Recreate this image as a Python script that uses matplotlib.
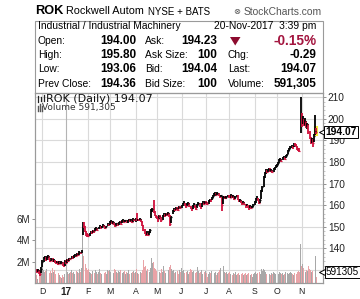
import numpy as np
import pandas as pd
import matplotlib
matplotlib.use('Agg')
import matplotlib.pyplot as plt
import matplotlib.transforms as mtransforms
from matplotlib.patches import Rectangle, Polygon
from matplotlib.lines import Line2D

plt.rcParams['font.family'] = ['Liberation Sans', 'DejaVu Sans']

W, H = 360, 299

# trading days Nov-22-2016 .. Nov-20-2017
holidays = ['2016-11-24', '2016-12-26', '2017-01-02', '2017-01-16', '2017-02-20',
            '2017-04-14', '2017-05-29', '2017-07-04', '2017-09-04']
dates = pd.bdate_range('2016-11-22', '2017-11-20')
dates = dates[~dates.isin(pd.to_datetime(holidays))]

month_labels = ['D', '17', 'F', 'M', 'A', 'M', 'J', 'J', 'A', 'S', 'O', 'N']

close = [
    129.8, 129.2, 129.9, 128.6, 128.2, 130.4,
    133.5, 135.2, 135.8, 134.6, 135.9, 136.2, 135.0, 134.3, 135.1, 133.9, 134.5, 133.6, 133.1, 133.8,
    132.7, 133.4, 132.9, 133.5, 132.2, 131.8, 134.2,
    133.2, 134.6, 134.0, 135.3, 134.9, 136.0, 135.6, 136.4, 136.9, 136.2, 137.4, 136.8, 138.2, 137.6,
    139.0, 151.5, 150.2, 148.1, 146.5, 145.9,
    145.6, 146.8, 147.5, 147.1, 148.2, 147.8, 148.9, 149.3, 148.6, 149.5, 150.3, 149.4, 149.9, 150.8,
    150.2, 149.6, 150.1, 151.2, 150.5,
    151.8, 152.6, 151.4, 152.2, 151.0, 150.4, 151.6, 150.9, 151.9, 152.4, 151.2, 152.8, 153.1, 152.3,
    152.9, 151.8, 152.6, 153.4, 152.7, 153.0, 152.1, 153.6, 153.2,
    153.4, 152.8, 153.3, 153.1, 153.6, 152.4, 150.8, 148.6, 147.2, 146.4, 147.3, 146.1, 147.5, 148.4,
    157.6, 158.4, 156.9, 155.6, 154.8,
    154.2, 153.6, 155.1, 154.4, 153.2, 154.8, 155.6, 154.9, 156.1, 155.3, 156.2, 155.0, 151.2, 154.6,
    157.2, 158.1, 157.6, 158.8, 158.2, 157.9, 159.3, 158.7,
    159.8, 160.6, 161.2, 160.1, 159.4, 160.7, 161.0, 159.6, 158.7, 158.2, 159.5, 160.3, 159.1, 158.4,
    160.2, 160.9, 159.7, 158.9, 160.5, 161.3, 160.6, 161.5,
    161.0, 160.4, 161.8, 162.4, 162.0, 163.5, 164.2, 164.9, 165.3, 164.6, 165.4, 164.8, 163.9, 164.5,
    160.2, 163.6, 164.0, 163.2, 163.8, 164.3,
    164.1, 163.5, 164.6, 163.8, 164.2, 163.0, 163.7, 164.4, 162.9, 161.8, 162.3, 161.2, 160.8, 161.5,
    160.4, 159.6, 160.2, 159.1, 158.8, 159.5, 158.6, 159.3, 160.1,
    161.2, 162.8, 163.6, 162.1, 161.0, 162.4, 166.8, 168.2, 172.9, 174.6, 176.1, 175.4, 176.3, 176.8,
    175.7, 176.5, 175.2, 176.9, 177.3, 178.1,
    178.6, 179.4, 180.8, 181.2, 180.5, 181.9, 182.4, 181.6, 182.8, 183.5, 185.1, 186.0, 186.8, 187.5,
    186.9, 188.2, 188.0, 187.1, 186.4, 185.8, 185.2, 198.8,
    198.6, 199.8, 197.2, 198.9, 196.3, 197.5, 193.8, 191.2, 189.6, 190.4, 188.7, 192.1, 194.36, 194.07,
]

high = [
    130.6, 130.3, 130.5, 130.0, 129.3, 131.2,
    134.6, 136.0, 136.4, 136.1, 136.5, 136.9, 136.3, 135.2, 135.7, 135.3, 135.0, 134.7, 134.0, 134.3,
    133.9, 133.9, 133.6, 134.0, 133.7, 132.9, 134.6,
    134.5, 134.9, 134.8, 135.6, 135.5, 136.4, 136.3, 136.8, 137.3, 137.0, 137.8, 137.6, 138.6, 138.4,
    139.4, 152.4, 152.0, 150.3, 148.2, 146.9,
    146.4, 147.3, 148.0, 147.9, 148.6, 148.4, 149.3, 149.8, 149.4, 149.9, 150.9, 150.4, 150.3, 151.3,
    151.0, 150.4, 150.5, 151.6, 151.4,
    152.5, 153.0, 152.7, 152.6, 152.3, 151.2, 151.9, 151.6, 152.3, 152.8, 152.5, 153.2, 153.6, 153.2,
    153.3, 152.9, 153.0, 153.8, 153.5, 153.4, 153.0, 153.9, 153.8,
    153.9, 156.4, 153.7, 153.6, 154.0, 153.5, 152.6, 150.9, 148.8, 147.6, 147.9, 147.1, 147.9, 148.9,
    158.3, 158.9, 162.4, 157.2, 155.6,
    155.1, 154.6, 155.6, 155.3, 154.5, 155.2, 156.2, 155.8, 156.5, 156.3, 156.8, 156.3, 155.4, 155.1,
    157.8, 158.6, 158.4, 159.2, 159.0, 158.6, 159.7, 159.6,
    160.2, 161.0, 161.8, 161.2, 160.3, 161.0, 161.6, 160.8, 159.5, 158.9, 159.9, 160.8, 160.2, 159.4,
    160.6, 161.3, 160.8, 159.8, 160.9, 161.9, 161.4, 161.9,
    161.8, 161.3, 162.2, 162.9, 162.8, 163.9, 164.6, 165.5, 165.9, 165.4, 165.9, 165.6, 164.9, 164.9,
    163.6, 164.1, 164.4, 164.2, 164.2, 164.7,
    164.8, 164.5, 165.0, 164.7, 164.7, 164.3, 164.1, 164.8, 164.6, 162.7, 162.8, 162.4, 161.6, 161.9,
    161.6, 160.6, 160.6, 160.2, 159.5, 159.9, 159.6, 159.8, 160.6,
    161.8, 163.4, 164.2, 163.5, 162.0, 162.9, 167.2, 168.7, 173.6, 175.3, 176.8, 176.3, 176.9, 177.4,
    177.0, 176.9, 176.3, 177.3, 177.8, 178.6,
    179.1, 179.9, 181.2, 181.7, 181.4, 182.3, 182.9, 182.5, 183.2, 183.9, 185.6, 186.4, 187.3, 188.0,
    187.6, 188.9, 188.7, 188.3, 187.2, 186.6, 186.4, 210.2,
    202.5, 201.2, 199.9, 200.4, 198.8, 198.2, 197.6, 194.3, 191.8, 191.3, 190.5, 192.8, 201.8, 195.8,
]

low = [
    128.9, 128.7, 129.1, 128.1, 127.3, 128.5,
    131.4, 133.8, 134.9, 134.2, 134.5, 135.5, 134.7, 133.8, 134.2, 133.5, 133.8, 133.2, 132.6, 133.0,
    132.3, 132.8, 132.5, 132.9, 132.0, 131.3, 131.9,
    132.9, 133.4, 133.6, 134.2, 134.5, 135.0, 135.2, 135.7, 136.2, 135.9, 136.5, 136.4, 137.0, 137.3,
    137.8, 146.2, 149.6, 147.6, 145.8, 145.2,
    145.0, 145.9, 146.7, 146.5, 147.3, 147.2, 147.9, 148.6, 148.2, 148.8, 149.4, 149.0, 149.2, 150.0,
    149.9, 149.1, 149.5, 150.3, 150.2,
    150.9, 151.7, 151.1, 151.3, 150.7, 150.0, 150.5, 150.4, 151.0, 151.9, 150.9, 151.5, 152.5, 151.9,
    152.3, 151.5, 151.8, 152.6, 152.4, 152.4, 151.8, 152.2, 152.7,
    152.2, 152.5, 152.5, 152.6, 152.9, 152.1, 150.4, 148.2, 146.5, 145.5, 146.2, 145.7, 146.0, 147.3,
    154.2, 157.0, 156.3, 155.1, 154.1,
    153.4, 152.3, 153.5, 153.9, 152.4, 153.0, 154.7, 154.4, 155.0, 154.9, 155.4, 154.6, 150.3, 151.8,
    155.9, 157.0, 157.1, 157.9, 157.8, 157.4, 158.2, 158.2,
    158.5, 159.7, 160.4, 159.8, 158.9, 159.5, 160.3, 159.2, 158.1, 157.1, 158.3, 159.3, 158.7, 157.8,
    158.6, 160.0, 159.2, 158.3, 159.2, 160.4, 160.2, 160.6,
    160.6, 160.1, 160.5, 161.5, 161.6, 162.2, 163.4, 164.2, 164.8, 164.3, 164.6, 164.4, 163.5, 163.6,
    157.3, 160.3, 163.2, 162.9, 163.0, 163.6,
    163.3, 163.2, 163.5, 163.4, 163.5, 162.6, 162.8, 163.6, 162.5, 161.3, 161.5, 160.8, 160.2, 160.6,
    160.1, 158.9, 159.4, 158.7, 157.9, 158.5, 158.0, 158.6, 159.0,
    160.0, 161.0, 162.6, 161.7, 160.4, 160.9, 162.8, 166.2, 168.4, 172.6, 174.4, 175.0, 175.3, 176.1,
    175.3, 175.6, 174.8, 175.3, 176.5, 177.2,
    177.9, 178.5, 179.6, 180.7, 180.0, 180.8, 181.7, 181.1, 181.9, 182.6, 183.9, 185.2, 186.1, 186.6,
    186.2, 187.0, 187.3, 186.8, 185.5, 185.0, 184.8, 193.6,
    196.3, 197.7, 196.5, 196.8, 195.6, 195.4, 193.1, 190.5, 188.4, 188.9, 187.1, 189.2, 192.6, 193.06,
]

# volume in millions of shares
volume = [
    0.9, 0.7, 0.4, 0.8, 1.0, 1.3,
    1.8, 1.2, 1.0, 1.1, 1.3, 1.0, 0.9, 1.1, 0.9, 1.4, 1.0, 1.2, 0.8, 0.7, 0.9, 0.7, 0.6, 0.5, 0.7, 0.6, 0.8,
    1.1, 1.0, 0.8, 0.9, 1.0, 1.2, 0.9, 1.0, 0.8, 1.1, 1.0, 0.9, 1.3, 1.0, 1.4, 5.2, 2.5, 1.8, 1.4, 1.2,
    1.3, 1.0, 0.9, 0.8, 1.1, 0.9, 1.2, 1.0, 0.8, 1.0, 1.3, 0.9, 0.8, 1.1, 0.9, 1.0, 0.8, 1.2, 1.1,
    1.2, 1.0, 1.1, 0.9, 1.3, 1.2, 1.0, 0.9, 1.1, 1.0, 1.2, 0.9, 1.0, 1.1, 0.8, 1.0, 0.9, 1.2, 0.8, 0.9,
    1.0, 1.1, 0.9,
    1.0, 1.3, 0.9, 0.8, 1.0, 0.9, 1.2, 2.1, 1.5, 1.6, 1.1, 1.3, 1.0, 1.4, 2.3, 1.9, 2.0, 1.4, 1.3,
    1.1, 1.2, 1.0, 0.9, 1.3, 1.0, 1.6, 1.1, 0.9, 1.0, 1.2, 1.5, 1.7, 1.3, 1.1, 1.2, 0.9, 1.0, 1.1, 0.8,
    1.2, 1.0,
    1.4, 1.1, 1.2, 0.9, 1.0, 1.1, 0.8, 1.0, 1.3, 1.2, 1.0, 1.1, 0.9, 1.0, 1.5, 1.1, 0.9, 1.0, 1.2, 0.8,
    1.0, 1.1,
    0.9, 0.6, 0.8, 1.0, 0.9, 1.1, 0.8, 0.9, 1.0, 0.7, 0.9, 1.0, 1.2, 1.4, 2.1, 1.6, 1.0, 0.9, 1.0, 0.8,
    0.9, 1.0, 0.8, 0.7, 0.9, 0.8, 1.0, 0.7, 0.8, 0.9, 0.7, 0.8, 0.9, 0.7, 0.8, 0.9, 0.7, 0.8, 0.9, 0.7,
    0.8, 0.6, 0.8,
    0.9, 1.0, 0.8, 0.9, 1.0, 0.8, 1.3, 1.1, 1.3, 1.2, 1.0, 0.8, 0.9, 0.8, 0.7, 0.9, 0.8, 1.0, 0.9, 0.8,
    0.9, 0.8, 1.0, 0.9, 0.8, 0.9, 0.7, 0.8, 1.0, 0.9, 0.8, 0.9, 1.0, 0.9, 0.8, 0.7, 0.9, 0.8, 1.0, 1.1,
    1.0, 3.6,
    1.6, 1.8, 1.4, 1.0, 1.2, 1.1, 1.6, 1.3, 1.2, 1.0, 1.1, 1.3, 2.5, 0.591305,
]

close = np.array(close)
high = np.array(high)
low = np.array(low)
volume = np.array(volume)
x = np.arange(len(dates))

up = np.r_[True, close[1:] >= close[:-1]]
bar_col = np.where(up, '#000000', '#d0103c')
vol_col = np.where(up, '#a8a8a8', '#e9a3a7')

fig = plt.figure(figsize=(W / 100, H / 100), dpi=100)
fig.patch.set_facecolor('white')


def fx(px):
    return px / W


def fy(py):
    return 1 - py / H


# volume axes underneath, price axes on top
axv = fig.add_axes([fx(35), fy(283), 288 / W, 190 / H])
ax = axv.twinx()
ax.set_zorder(axv.get_zorder() + 1)
ax.patch.set_visible(False)

ax.set_xlim(-0.6, 256)
ax.set_ylim(123.9, 212.0)
axv.set_ylim(0, 17.7)

# grid (drawn on the bottom axes so volume sits over it)
blend = mtransforms.blended_transform_factory(axv.transAxes, ax.transData)
for p in range(130, 211, 10):
    axv.plot([0, 1], [p, p], color='#dadada', lw=0.8, transform=blend, zorder=0)
month_start = [i for i in range(1, len(dates)) if dates[i].month != dates[i - 1].month]
for i, lab in zip(month_start, month_labels):
    axv.axvline(i, color='#b4b4b4' if lab == '17' else '#dadada', lw=0.8, zorder=0)

axv.bar(x, volume, width=0.85, color=vol_col, zorder=1, linewidth=0)

# OHLC bars
ax.vlines(x[-1], low[-1] - 0.8, high[-1] + 0.8, colors='#f5e83a', lw=3.0, zorder=1)
ax.vlines(x, low, high, colors=bar_col, lw=1.3, zorder=2)
ax.hlines(close, x, x + 0.6, colors=bar_col, lw=0.9, zorder=2)

# axes styling
for a in (ax, axv):
    for s in a.spines.values():
        s.set_color('#9a9a9a')
        s.set_linewidth(0.8)

ax.set_yticks(range(130, 211, 10))
ax.set_yticks(range(126, 212, 2), minor=True)
ax.tick_params(axis='y', which='major', direction='out', length=2, width=0.6, color='#808080',
               pad=1.5, labelsize=7.3, labelcolor='#222222')
ax.tick_params(axis='y', which='minor', direction='out', length=1.5, width=0.5, color='#b0b0b0')

axv.set_yticks([2, 4, 6])
axv.set_yticklabels(['2M', '4M', '6M'])
axv.tick_params(axis='y', direction='out', length=2, width=0.6, color='#808080', pad=1.5,
                labelsize=7.0, labelcolor='#222222')

axv.set_xticks(month_start)
axv.set_xticklabels(month_labels)
axv.tick_params(axis='x', length=0, pad=3, labelsize=6.3, labelcolor='#222222')
for t in axv.get_xticklabels():
    if t.get_text() == '17':
        t.set_fontweight('bold')
        t.set_fontsize(7.2)
ax.tick_params(axis='x', length=0, labelbottom=False)

# last price / volume tags on the right edge
tag_tr = mtransforms.blended_transform_factory(ax.transAxes, ax.transData)
ax.annotate(f'{close[-1]:.2f}', xy=(1.0, close[-1]), xycoords=tag_tr,
            xytext=(1.8, 0), textcoords='offset points', ha='left', va='center',
            fontsize=7.4, fontweight='bold', color='black', annotation_clip=False, zorder=6,
            bbox=dict(boxstyle='square,pad=0.1', fc='white', ec='black', lw=0.7))
ax.plot([0.996], [close[-1]], marker='<', ms=5, mfc='white', mec='black', mew=0.7,
        transform=tag_tr, clip_on=False, zorder=5)

vol_tr = mtransforms.blended_transform_factory(ax.transAxes, axv.transData)
vol_off = mtransforms.offset_copy(vol_tr, fig=fig, x=0, y=3.5, units='points')
ax.annotate(f'{volume[-1] * 1e6:.0f}', xy=(1.0, volume[-1]), xycoords=vol_tr,
            xytext=(1.8, 3.5), textcoords='offset points', ha='left', va='center',
            fontsize=7.1, color='black', annotation_clip=False, zorder=6,
            bbox=dict(boxstyle='square,pad=0.1', fc='white', ec='black', lw=0.7))
ax.plot([0.996], [volume[-1]], marker='<', ms=5, mfc='white', mec='black', mew=0.7,
        transform=vol_off, clip_on=False, zorder=5)

# legend inside chart
fig.text(fx(46), fy(98.5), 'ROK (Daily) 194.07', fontsize=8.0, family='DejaVu Sans',
         va='center', ha='left', color='#111111')
fig.text(fx(42), fy(107.5), 'Volume 591,305', fontsize=6.5, family='DejaVu Sans',
         va='center', ha='left', color='#333333')
for dx, y0, y1 in [(37.5, 95.5, 101.5), (40.5, 96.5, 101.0), (43.5, 95.0, 100.5)]:
    fig.add_artist(Line2D([fx(dx), fx(dx)], [fy(y0), fy(y1)], color='#222222', lw=0.9))
for dx, y0 in [(37.5, 105.5), (39.5, 104.0), (41.5, 106.0)]:
    fig.add_artist(Line2D([fx(dx), fx(dx)], [fy(y0), fy(110.5)], color='#555555', lw=1.0))

# header
fig.text(fx(35), fy(11.5), 'ROK', fontsize=9.2, fontweight='bold', va='center', ha='left')
fig.text(fx(65.5), fy(11.5), 'Rockwell Autom', fontsize=7.8, va='center', ha='left')
fig.text(fx(148), fy(12), 'NYSE + BATS', fontsize=7.0, va='center', ha='left')
fig.text(fx(322), fy(12), 'StockCharts.com', fontsize=7.4, va='center', ha='right', color='#555555')
fig.text(fx(233), fy(12), '⊗', fontsize=6.0, family='DejaVu Sans', va='center', ha='left',
         color='#555555')

# quote table
fig.add_artist(Rectangle((fx(34.5), fy(93)), fx(322.7) - fx(34.5), fy(21.3) - fy(93),
                         transform=fig.transFigure, fill=False, ec='#9a9a9a', lw=0.8))

rows = [41, 55, 69.3, 84.5]
labels1 = ['Open:', 'High:', 'Low:', 'Prev Close:']
values1 = ['194.00', '195.80', '193.06', '194.36']
labels2 = ['Ask:', 'Ask Size:', 'Bid:', 'Bid Size:']
values2 = ['194.23', '100', '194.04', '100']
labels3 = ['', 'Chg:', 'Last:', 'Volume:']
values3 = ['', '-0.29', '194.07', '591,305']

fig.text(fx(37.7), fy(26), 'Industrial / Industrial Machinery', fontsize=7.4, va='center', ha='left')
fig.text(fx(316.7), fy(26), '20-Nov-2017  3:39 pm', fontsize=7.4, va='center', ha='right')
for r, l1, v1, l2, v2, l3, v3 in zip(rows, labels1, values1, labels2, values2, labels3, values3):
    fig.text(fx(37.7), fy(r), l1, fontsize=7.4, va='center', ha='left')
    fig.text(fx(136), fy(r), v1, fontsize=8.5, fontweight='bold', va='center', ha='right')
    fig.text(fx(145), fy(r), l2, fontsize=7.4, va='center', ha='left')
    fig.text(fx(217.3), fy(r), v2, fontsize=8.5, fontweight='bold', va='center', ha='right')
    if l3:
        fig.text(fx(227.7), fy(r), l3, fontsize=7.4, va='center', ha='left')
        fig.text(fx(316.5), fy(r), v3, fontsize=8.5, fontweight='bold', va='center', ha='right')

fig.add_artist(Polygon([[fx(230), fy(37)], [fx(240.5), fy(37)], [fx(235.2), fy(45.5)]],
                       closed=True, transform=fig.transFigure, fc='#8c0b2e', ec='none'))
fig.text(fx(316.5), fy(41), '-0.15%', fontsize=9.8, fontweight='bold', va='center', ha='right',
         color='#a3153f')

fig.savefig('out.png', dpi=100)
